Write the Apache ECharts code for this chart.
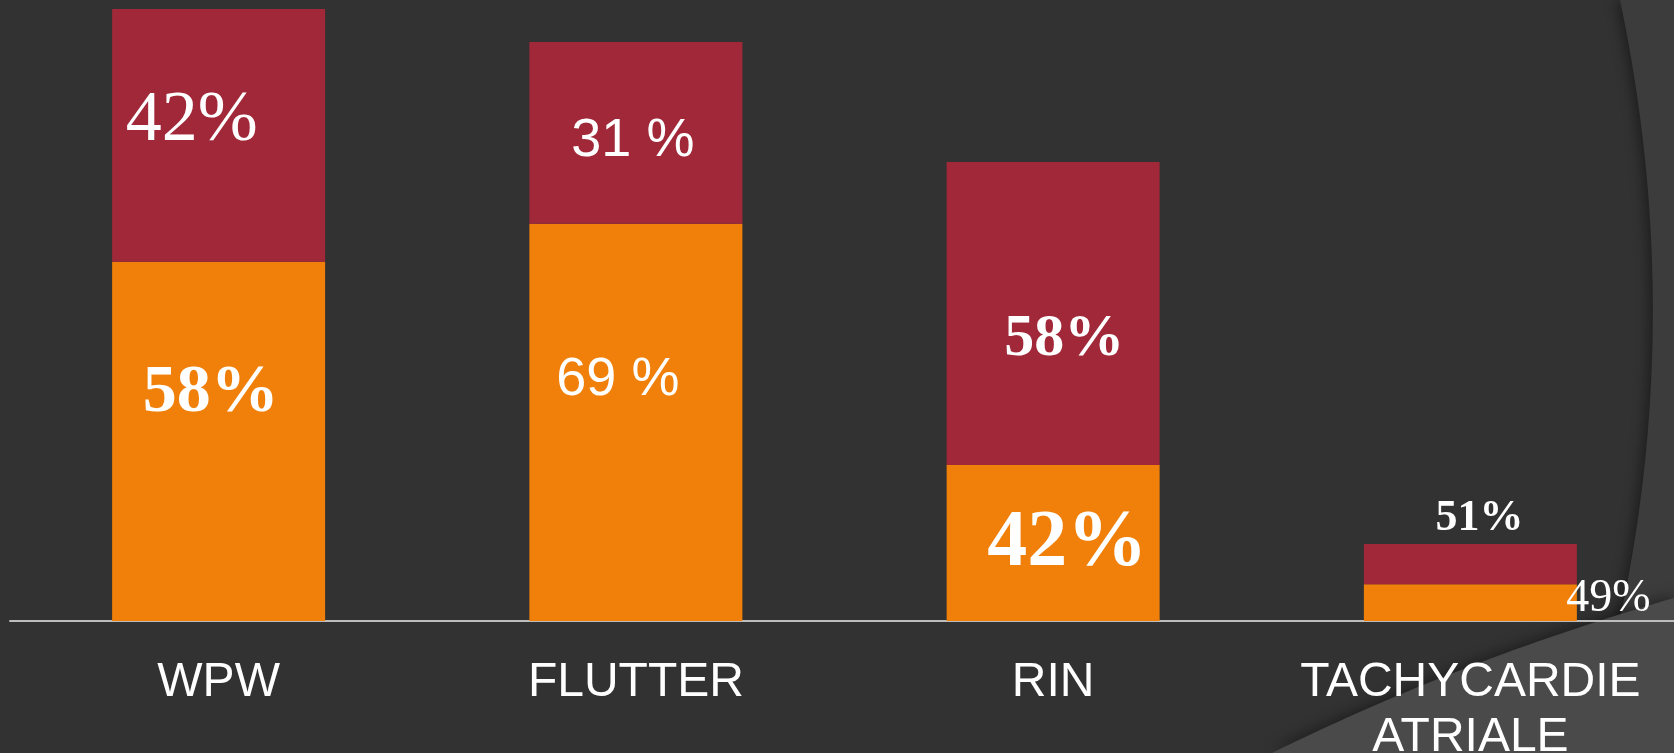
<!DOCTYPE html>
<html lang="fr">

<head>
    <meta charset="UTF-8">
    <title>Répartition</title>
    <script src="https://cdn.jsdelivr.net/npm/echarts@6/dist/echarts.min.js"></script>
    <style>
        html, body {
            margin: 0;
            padding: 0;
            background: #323232;
        }

        #main {
            width: 1674px;
            height: 753px;
        }
    </style>
</head>

<body>
    <div id="main"></div>
    <script>
        // Data (bar heights, tallest bar = 100)
        const categories = ['WPW', 'FLUTTER', 'RIN', 'TACHYCARDIE\nATRIALE'];
        const orangeValues = [58.7, 64.9, 25.5, 6.0];
        const redValues = [41.3, 29.7, 49.5, 6.6];
        const orangeLabels = ['58%', '69 %', '42%', '49%'];
        const redLabels = ['42%', '31 %', '58%', '51%'];

        const SERIF = '"Liberation Serif", "Times New Roman", serif';
        const SANS = '"Liberation Sans", Arial, sans-serif';

        // label look for each segment (the slide mixes fonts and sizes)
        const orangeLabelStyle = [
            { fontFamily: SERIF, fontWeight: 'bold', fontSize: 68, offset: [-8, -48] },
            { fontFamily: SANS, fontWeight: 'normal', fontSize: 54, offset: [-18, -42] },
            { fontFamily: SERIF, fontWeight: 'bold', fontSize: 80, offset: [14, 1] },
            { fontFamily: SERIF, fontWeight: 'normal', fontSize: 46, offset: [138, -4] }
        ];
        const redLabelStyle = [
            { fontFamily: SERIF, fontWeight: 'normal', fontSize: 72, offset: [-27, -14] },
            { fontFamily: SANS, fontWeight: 'normal', fontSize: 54, offset: [-3, 8] },
            { fontFamily: SERIF, fontWeight: 'bold', fontSize: 60, offset: [11, 26] },
            { fontFamily: SERIF, fontWeight: 'bold', fontSize: 44, offset: [9, -45] }
        ];

        function buildData(values, texts, styles) {
            return values.map((v, i) => ({
                value: v,
                label: Object.assign({ formatter: texts[i] }, styles[i])
            }));
        }

        // quadratic curve -> polygon points, for the background swooshes
        function curve(p0, p1, p2, extra) {
            const pts = [];
            for (let k = 0; k <= 40; k++) {
                const t = k / 40;
                const a = (1 - t) * (1 - t), b = 2 * (1 - t) * t, c = t * t;
                pts.push([a * p0[0] + b * p1[0] + c * p2[0], a * p0[1] + b * p1[1] + c * p2[1]]);
            }
            return pts.concat(extra);
        }

        const chart = echarts.init(document.getElementById('main'));

        const option = {
            backgroundColor: '#323232',
            animation: false,
            graphic: [
                {
                    type: 'polygon',
                    z: -10,
                    shape: { points: curve([1620, 0], [1700, 380], [1585, 753], [[1674, 753], [1674, 0]]) },
                    style: { fill: '#3c3c3c', shadowBlur: 14, shadowColor: 'rgba(0,0,0,0.45)', shadowOffsetX: -3 }
                },
                {
                    type: 'polygon',
                    z: -9,
                    shape: { points: curve([1272, 753], [1460, 660], [1674, 598], [[1674, 753]]) },
                    style: { fill: '#4a4a4a', shadowBlur: 14, shadowColor: 'rgba(0,0,0,0.4)', shadowOffsetY: -3 }
                }
            ],
            grid: {
                left: 10,
                right: -5,
                top: 9,
                bottom: 132,
                containLabel: false,
                outerBoundsMode: 'none'
            },
            xAxis: {
                type: 'category',
                data: categories,
                axisLine: { lineStyle: { color: '#bdbdbd', width: 2 } },
                axisTick: { show: false },
                axisLabel: {
                    interval: 0,
                    hideOverlap: false,
                    color: '#ffffff',
                    fontFamily: SANS,
                    fontSize: 48,
                    lineHeight: 55,
                    margin: 34
                }
            },
            yAxis: {
                type: 'value',
                min: 0,
                max: 100,
                show: false,
                splitLine: { show: false }
            },
            series: [
                {
                    name: 'orange',
                    type: 'bar',
                    stack: 'total',
                    barWidth: 213,
                    itemStyle: { color: '#f0800a' },
                    label: { show: true, position: 'inside', color: '#ffffff' },
                    data: buildData(orangeValues, orangeLabels, orangeLabelStyle)
                },
                {
                    name: 'red',
                    type: 'bar',
                    stack: 'total',
                    barWidth: 213,
                    itemStyle: { color: '#a12838' },
                    label: { show: true, position: 'inside', color: '#ffffff' },
                    data: buildData(redValues, redLabels, redLabelStyle)
                }
            ]
        };

        chart.setOption(option);
    </script>
</body>

</html>
